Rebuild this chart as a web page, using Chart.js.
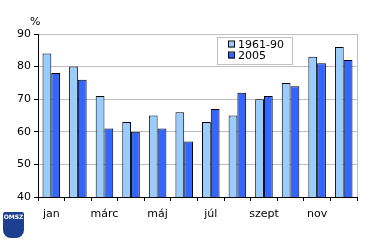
<!DOCTYPE html>
<html lang="hu">
<head>
<meta charset="UTF-8">
<title>Havi értékek</title>
<script src="https://cdn.jsdelivr.net/npm/chart.js"></script>
<style>
  body { margin: 0; background: #fff; }
  #wrap { position: relative; width: 370px; height: 242px; }
  #logo {
    position: absolute; left: 3px; top: 212px; width: 21px; height: 26px;
    background: #1d3f8f; border-radius: 2px 2px 8px 8px; color: #fff;
    font: bold 6px "DejaVu Sans", sans-serif; text-align: center; line-height: 9px;
  }
</style>
</head>
<body>
<div id="wrap">
  <canvas id="chart" width="370" height="242"></canvas>
  <div id="logo">OMSZ</div>
</div>
<script>
// data
var months = ['jan', 'febr', 'márc', 'ápr', 'máj', 'jún', 'júl', 'aug', 'szept', 'okt', 'nov', 'dec'];
var normal = [84, 80, 71, 63, 65, 66, 63, 65, 70, 75, 83, 86];   // 1961-90
var year2005 = [78, 76, 61, 60, 61, 57, 67, 72, 71, 74, 81, 82];
var seriesNames = ['1961-90', '2005'];
var yTicks = { min: 40, max: 90, step: 10 };

var FONT = 'DejaVu Sans';

// draws the "%" label, the right frame line and the legend box inside the plot
var extras = {
  id: 'extras',
  afterDraw: function(chart) {
    var ctx = chart.ctx, a = chart.chartArea;
    ctx.save();
    ctx.strokeStyle = '#c0c0c0';
    ctx.lineWidth = 1;
    ctx.beginPath();
    ctx.moveTo(Math.round(a.right) + 0.5, a.top);
    ctx.lineTo(Math.round(a.right) + 0.5, a.bottom);
    ctx.stroke();

    ctx.fillStyle = '#000';
    ctx.font = '11px ' + FONT;
    ctx.textBaseline = 'middle';
    ctx.textAlign = 'left';
    ctx.fillText('%', 30, 22);

    // legend
    ctx.fillStyle = '#fff';
    ctx.fillRect(217.5, 37.5, 75, 27);
    ctx.strokeStyle = '#c0c0c0';
    ctx.strokeRect(217.5, 37.5, 75, 27);
    chart.data.datasets.forEach(function(ds, i) {
      var y = 44.5 + i * 11;
      ctx.fillStyle = ds.backgroundColor;
      ctx.fillRect(229, y - 3, 6, 6);
      ctx.strokeStyle = '#000';
      ctx.strokeRect(228.5, y - 3.5, 6, 6);
      ctx.fillStyle = '#000';
      ctx.fillText(ds.label, 238, y + 0.5);
    });
    ctx.restore();
  }
};

new Chart(document.getElementById('chart'), {
  type: 'bar',
  data: {
    labels: months,
    datasets: [
      { label: seriesNames[0], data: normal, backgroundColor: '#99ccff', borderColor: '#000', borderWidth: 1 },
      { label: seriesNames[1], data: year2005, backgroundColor: '#3366ff', borderColor: '#000', borderWidth: 1 }
    ]
  },
  options: {
    responsive: false,
    animation: false,
    layout: { padding: { top: 34, right: 13, left: 0, bottom: 0 } },
    datasets: { bar: { categoryPercentage: 0.66, barPercentage: 1.0 } },
    plugins: { legend: { display: false }, tooltip: { enabled: false } },
    scales: {
      x: {
        grid: { drawOnChartArea: false, color: '#000', tickLength: 4 },
        border: { color: '#000' },
        ticks: {
          color: '#000', font: { family: FONT, size: 11 }, padding: 7,
          maxRotation: 0, autoSkip: false,
          callback: function(v, i) { return i % 2 === 0 ? months[i] : ''; }
        },
        afterFit: function(s) { s.height = 45; }
      },
      y: {
        min: yTicks.min, max: yTicks.max,
        grid: { color: '#c0c0c0', tickColor: '#000', tickLength: 4 },
        border: { color: '#000' },
        ticks: { stepSize: yTicks.step, color: '#000', font: { family: FONT, size: 11 }, padding: 3 },
        afterFit: function(s) { s.width = 38; }
      }
    }
  },
  plugins: [extras]
});
</script>
</body>
</html>
